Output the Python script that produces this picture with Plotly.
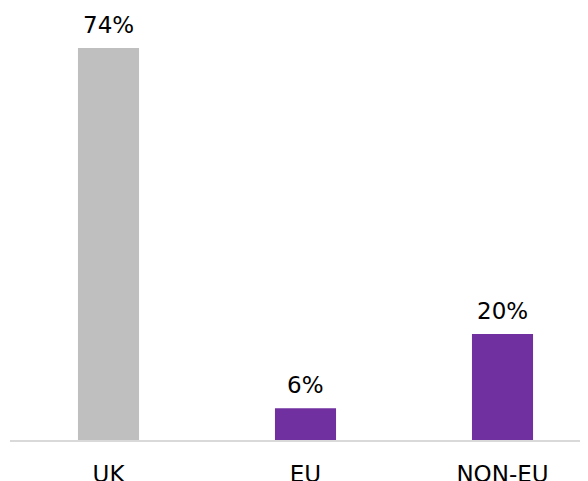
import plotly.graph_objects as go

categories = ["UK", "EU", "NON-EU"]
values = [74, 6, 20]
labels = ["74%", "6%", "20%"]
colors = ["#BFBFBF", "#7030A0", "#7030A0"]

fig = go.Figure(go.Bar(
    x=categories, y=values,
    marker=dict(color=colors, line=dict(width=0)),
    width=0.31,
))
for c, v, t in zip(categories, values, labels):
    fig.add_annotation(x=c, y=v, text=t, showarrow=False, yanchor="bottom",
                       yshift=8, font=dict(family="DejaVu Sans", size=23, color="#000000"))
fig.update_layout(
    width=580, height=473,
    margin=dict(l=2, r=0, t=12, b=41, autoexpand=False),
    paper_bgcolor="white", plot_bgcolor="white",
    showlegend=False,
    font=dict(family="DejaVu Sans", color="#000000"),
    xaxis=dict(range=[-0.5, 2.434], showline=True, linecolor="#D9D9D9", linewidth=2,
               automargin=False,
               ticks="outside", ticklen=12, tickcolor="rgba(0,0,0,0)",
               tickfont=dict(family="DejaVu Sans", size=23, color="#000000"),
               showgrid=False, zeroline=False),
    yaxis=dict(range=[0, 79.3], visible=False, showgrid=False, zeroline=False,
               automargin=False),
)
fig.write_html("out.html")
